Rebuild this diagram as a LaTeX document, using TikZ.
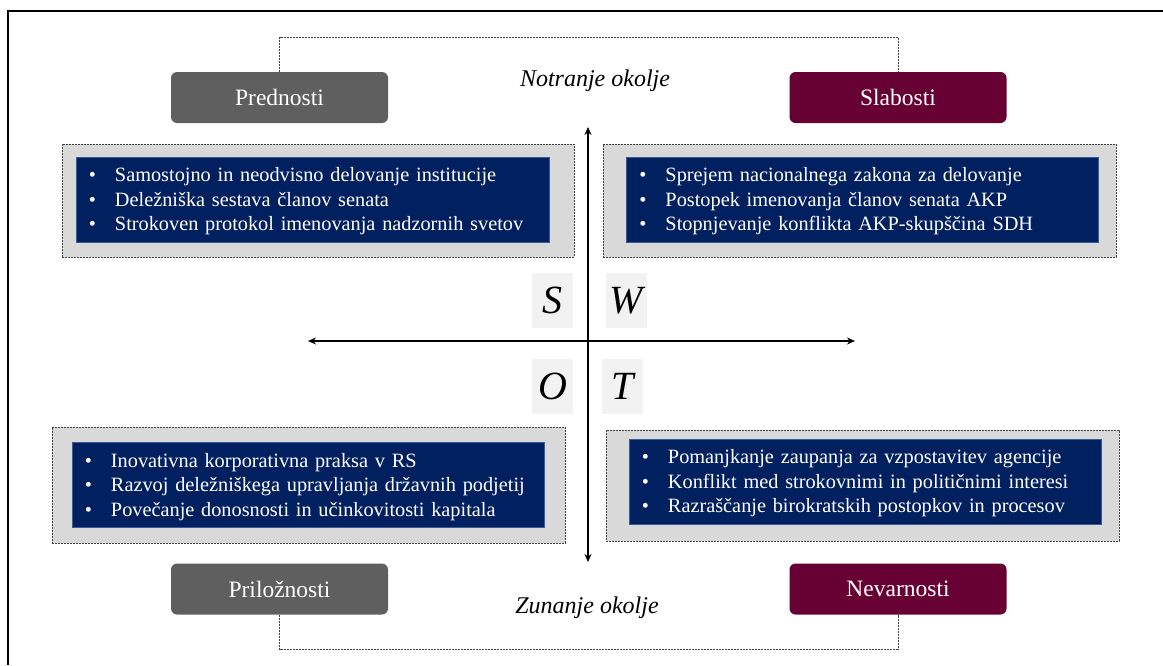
\documentclass[tikz,border=0pt]{standalone}
\usepackage{fontspec}
\setmainfont{Liberation Serif}
\usetikzlibrary{arrows.meta}
\definecolor{labgray}{HTML}{5F5F5F}
\definecolor{labwine}{HTML}{670033}
\definecolor{panelgray}{HTML}{D9D9D9}
\definecolor{navyfill}{HTML}{002060}
\definecolor{navyedge}{HTML}{3A5A9A}
\definecolor{letterbg}{HTML}{F2F2F2}
\definecolor{dashcol}{HTML}{404040}
\tikzset{
  label box/.style={rounded corners=6pt, minimum width=217pt, minimum height=51pt,
    inner sep=0pt, text=white, font=\fontsize{23.5}{27}\selectfont},
  panel/.style={fill=panelgray, draw=dashcol, line width=0.8pt,
    dash pattern=on 2pt off 1pt, inner sep=0pt},
  listbox/.style={fill=navyfill, draw=navyedge, line width=0.6pt,
    inner sep=0pt, minimum height=85pt},
  listtext/.style={anchor=west, align=left, inner sep=0pt, text width=440pt,
    text=white, font=\fontsize{20.3}{24.4}\selectfont},
  letterbox/.style={fill=letterbg, minimum width=41pt, minimum height=55pt,
    inner sep=0pt, font=\fontsize{40}{40}\selectfont\itshape},
  link/.style={draw=dashcol, line width=0.8pt, dash pattern=on 2pt off 1pt},
  axis/.style={line width=1.5pt, {Stealth[length=8pt,width=7pt]}-{Stealth[length=8pt,width=7pt]}},
  envtext/.style={font=\fontsize{24}{28}\selectfont\itshape, anchor=base, inner sep=0pt}
}
\newcommand{\bl}{\textbullet\hspace{19pt}}
\begin{document}
\begin{tikzpicture}[x=1pt,y=-1pt]
\useasboundingbox (0,0) rectangle (1163,665);
% outer frame
\draw[line width=1.3pt] (8,665) -- (8,11) -- (1163,11);

% quadrant labels
\node[label box, fill=labgray] (pred) at (279.5,97.5) {Prednosti};
\node[label box, fill=labwine] (slab) at (898,97.5) {Slabosti};
\node[label box, fill=labgray] (prilo) at (279.5,589) {Priložnosti};
\node[label box, fill=labwine] (nevar) at (898,589) {Nevarnosti};

% environment labels
\node[envtext] (notr) at (595,86) {Notranje okolje};
\node[envtext] (zun) at (587,613) {Zunanje okolje};

% dashed links between label boxes
\draw[link] (pred.north) -- (pred.north |- 0,37) -| (slab.north);
\draw[link] (prilo.south) -- (prilo.south |- 0,649) -| (nevar.south);

% strengths
\node[panel, minimum width=512pt, minimum height=113pt] (sp) at (318,200.5) {};
\node[listbox, minimum width=473pt] (sb) at (312.5,199.5) {};
\node[listtext] (st) at ([xshift=13pt,yshift=-2pt]sb.west) {%
\bl Samostojno in neodvisno delovanje institucije\\
\bl Deležniška sestava članov senata\\
\bl Strokoven protokol imenovanja nadzornih svetov};

% weaknesses
\node[panel, minimum width=513pt, minimum height=113pt] (wp) at (859.5,200.5) {};
\node[listbox, minimum width=472pt] (wb) at (862.5,199.5) {};
\node[listtext] (wt) at ([xshift=13pt,yshift=-2pt]wb.west) {%
\bl Sprejem nacionalnega zakona za delovanje\\
\bl Postopek imenovanja članov senata AKP\\
\bl Stopnjevanje konflikta AKP-skupščina SDH};

% opportunities
\node[panel, minimum width=513pt, minimum height=116pt] (op) at (308.5,485) {};
\node[listbox, minimum width=472pt] (ob) at (308,485) {};
\node[listtext] (ot) at ([xshift=13pt,yshift=-2pt]ob.west) {%
\bl Inovativna korporativna praksa v RS\\
\bl Razvoj deležniškega upravljanja državnih podjetij\\
\bl Povečanje donosnosti in učinkovitosti kapitala};

% threats
\node[panel, minimum width=513pt, minimum height=111pt] (tp) at (862.5,485.5) {};
\node[listbox, minimum width=472pt] (tb) at (865,481.5) {};
\node[listtext] (tt) at ([xshift=13pt,yshift=-2pt]tb.west) {%
\bl Pomanjkanje zaupanja za vzpostavitev agencije\\
\bl Konflikt med strokovnimi in političnimi interesi\\
\bl Razraščanje birokratskih postopkov in procesov};

% SWOT letters
\node[letterbox] (ls) at (552.5,300.5) {S};
\node[letterbox] (lw) at (626.5,300.5) {W};
\node[letterbox] (lo) at (552.5,386) {O};
\node[letterbox] (lt) at (622.5,386) {T};

% axes
\coordinate (vtop) at (588,127);
\coordinate (vbot) at (588,562);
\coordinate (hleft) at (308,341);
\coordinate (hright) at (855,341);
\draw[axis] (vtop) -- (vbot);
\draw[axis] (hleft) -- (hright);
\end{tikzpicture}
\end{document}
